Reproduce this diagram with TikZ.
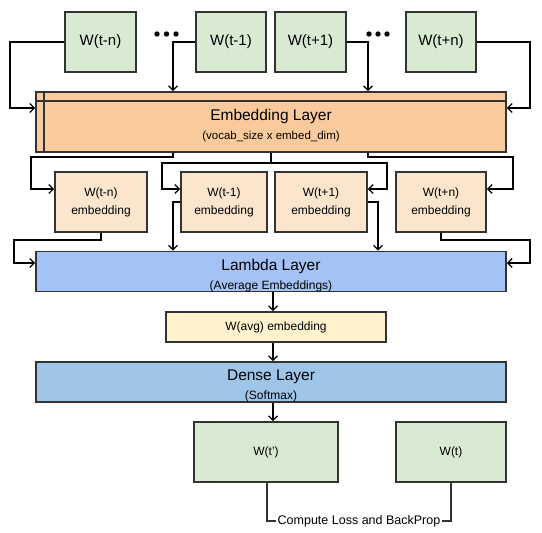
\documentclass[tikz,border=0pt]{standalone}
\usepackage{fontspec}
\setmainfont{Liberation Sans}
\usetikzlibrary{arrows.meta,calc}
\definecolor{wgreen}{HTML}{D9EAD3}
\definecolor{embor}{HTML}{F9CB9C}
\definecolor{embl}{HTML}{FCE5CD}
\definecolor{lamb}{HTML}{A4C2F4}
\definecolor{avgy}{HTML}{FFF2CC}
\definecolor{densb}{HTML}{9FC5E8}
\definecolor{bordc}{HTML}{333333}
\newcommand{\toplift}{\rule{0pt}{18.5pt}}
\begin{document}
\begin{tikzpicture}[x=1pt,y=-1pt,
  box/.style={draw=bordc, line width=1.6pt, inner sep=0pt, align=center, text=black},
  wbox/.style={box, fill=wgreen, minimum height=60pt, font=\fontsize{15}{18}\selectfont},
  ebox/.style={box, fill=embl, minimum height=60pt, font=\fontsize{12}{18}\selectfont},
  layer/.style={box, minimum width=470pt, font=\fontsize{12}{19}\selectfont},
  arr/.style={draw=black, line width=1.5pt, -{Straight Barb[length=4.5pt,width=9pt,line width=1.3pt]}},
  plain/.style={draw=bordc, line width=1.5pt},
  ]
\useasboundingbox (0,0) rectangle (542,533);

% top words
\node[wbox, minimum width=71pt] (tn)  at (100.5,42) {W(t-n)};
\node[wbox, minimum width=70pt] (t1)  at (231,42)   {W(t-1)};
\node[wbox, minimum width=71pt] (tp1) at (310.5,42) {W(t+1)};
\node[wbox, minimum width=70pt] (tpn) at (441,42)   {W(t+n)};
\foreach \x in {157,166.5,176,369,378,387}
  \fill[black] (\x,34) circle[radius=2.7pt];

% embedding layer
\node[layer, fill=embor, minimum height=60pt] (emb) at (271,122)
  {{\fontsize{15.5}{19}\selectfont\toplift Embedding Layer}\\{\fontsize{11.5}{19}\selectfont (vocab\_size x embed\_dim)}};
\draw[plain, line width=1.6pt] ([yshift=-10pt]emb.north west) -- ([yshift=-10pt]emb.north east);
\draw[plain, line width=1.6pt] ([xshift=9pt]emb.north west) -- ([xshift=9pt]emb.south west);

% word embeddings
\node[ebox, minimum width=92pt] (etn)  at (101,202) {W(t-n)\\embedding};
\node[ebox, minimum width=86pt] (et1)  at (224,202) {W(t-1)\\embedding};
\node[ebox, minimum width=92pt] (etp1) at (321,202) {W(t+1)\\embedding};
\node[ebox, minimum width=90pt] (etpn) at (441,202) {W(t+n)\\embedding};

% lambda layer
\node[layer, fill=lamb, minimum height=39pt] (lam) at (271,271.5)
  {{\fontsize{15.5}{19}\selectfont\toplift Lambda Layer}\\(Average Embeddings)};

% average embedding
\node[box, fill=avgy, minimum width=220pt, minimum height=30pt, font=\fontsize{12}{14}\selectfont] (avg) at (276,327) {W(avg) embedding};

% dense layer
\node[layer, fill=densb, minimum height=40pt] (dense) at (271,382)
  {{\fontsize{15.5}{19}\selectfont\toplift Dense Layer}\\(Softmax)};

% outputs
\node[box, fill=wgreen, minimum width=144pt, minimum height=60pt, font=\fontsize{12}{14}\selectfont] (wtp) at (266,452) {W(t')};
\node[box, fill=wgreen, minimum width=110pt, minimum height=60pt, font=\fontsize{12}{14}\selectfont] (wt) at (451,452) {W(t)};

% words -> embedding layer
\draw[arr] (tn.west) -- (10,42) |- ([yshift=14pt]emb.west);
\draw[arr] (t1.west) -| ([xshift=-98pt]emb.north);
\draw[arr] (tp1.east) -| ([xshift=97pt]emb.north);
\draw[arr] (tpn.east) -- (530,42) |- ([yshift=14pt]emb.east);

% embedding layer -> word embeddings
\draw[arr] ([xshift=-98pt]emb.south) |- (31,157) |- ([yshift=13pt]etn.west);
\draw[arr] (emb.south) |- (162,163) |- ([yshift=13pt]et1.west);
\draw[arr] (emb.south) |- (387,163) |- ([yshift=13pt]etp1.east);
\draw[arr] ([xshift=97pt]emb.south) |- (513,157) |- ([yshift=13pt]etpn.east);

% word embeddings -> lambda layer
\draw[arr] (etn.south) |- (14,240) |- ([yshift=8.5pt]lam.west);
\draw[arr] (et1.west) -| ([xshift=-98pt]lam.north);
\draw[arr] (etp1.east) -| ([xshift=107pt]lam.north);
\draw[arr] (etpn.south) |- (530,240) |- ([yshift=8.5pt]lam.east);

% vertical chain
\draw[arr] ([xshift=2pt]lam.south) -- ([xshift=-3pt]avg.north);
\draw[arr] ([xshift=-3pt]avg.south) -- ([xshift=2pt]dense.north);
\draw[arr] ([xshift=2pt]dense.south) -- ([xshift=7pt]wtp.north);

% loss
\draw[plain] ([xshift=1pt]wtp.south) -- ++(0,38) -| node[pos=0.25, fill=white, inner sep=2pt, font=\fontsize{12.5}{14}\selectfont] (loss) {Compute Loss and BackProp} (wt.south);
\end{tikzpicture}
\end{document}
